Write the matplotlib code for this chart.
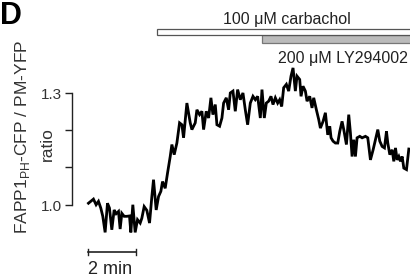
import matplotlib
matplotlib.use("Agg")
import matplotlib.pyplot as plt
from matplotlib.patches import Rectangle

plt.rcParams['font.family'] = ['Liberation Sans', 'DejaVu Sans']
plt.rcParams['mathtext.fontset'] = 'custom'
plt.rcParams['mathtext.rm'] = 'Liberation Sans'

# time in minutes
time_min = [0.014, 0.222, 0.333, 0.431, 0.528, 0.611, 0.708, 0.806, 0.889, 0.986,
            1.083, 1.167, 1.264, 1.333, 1.403, 1.5, 1.611, 1.722, 1.778, 1.861,
            1.958, 2.056, 2.167, 2.236, 2.333, 2.444, 2.556, 2.653, 2.722, 2.833,
            2.931, 3.028, 3.097, 3.208, 3.306, 3.417, 3.486, 3.583, 3.694, 3.806,
            3.903, 3.972, 4.111, 4.25, 4.319, 4.458, 4.528, 4.639, 4.736, 4.806,
            4.917, 5.014, 5.111, 5.194, 5.292, 5.361, 5.472, 5.569, 5.639, 5.75,
            5.847, 5.917, 6.028, 6.125, 6.222, 6.333, 6.444, 6.542, 6.639, 6.75,
            6.861, 6.958, 7.056, 7.167, 7.236, 7.333, 7.417, 7.514, 7.611, 7.694,
            7.792, 7.889, 7.972, 8.056, 8.139, 8.25, 8.347, 8.444, 8.528, 8.625,
            8.694, 8.806, 8.861, 8.944, 9.042, 9.111, 9.222, 9.319, 9.389, 9.5,
            9.597, 9.667, 9.778, 9.875, 9.972, 10.056, 10.111, 10.194, 10.292, 10.389,
            10.472, 10.569, 10.639, 10.75, 10.847, 10.917, 10.986, 11.056, 11.125, 11.194,
            11.306, 11.403, 11.542, 11.639, 11.75, 11.861, 11.958, 12.056, 12.139, 12.236,
            12.333, 12.417, 12.472, 12.556, 12.653, 12.722, 12.792, 12.861, 12.931, 13.0,
            13.069, 13.139, 13.25, 13.347]
# FAPP1PH-CFP / PM-YFP ratio
ratio = [1.004, 1.015, 1.000, 1.009, 0.991, 0.969, 0.926, 1.004, 0.991, 0.933,
         0.986, 0.976, 0.982, 0.935, 0.977, 0.969, 0.969, 0.970, 0.926, 1.000,
         0.926, 0.960, 0.951, 0.964, 0.995, 0.985, 0.951, 1.022, 1.067, 0.986,
         1.022, 1.036, 1.062, 1.044, 1.085, 1.129, 1.161, 1.134, 1.165, 1.219,
         1.214, 1.179, 1.272, 1.219, 1.201, 1.219, 1.254, 1.241, 1.250, 1.201,
         1.250, 1.232, 1.286, 1.241, 1.268, 1.214, 1.210, 1.232, 1.272, 1.286,
         1.254, 1.299, 1.304, 1.250, 1.308, 1.281, 1.299, 1.254, 1.214, 1.272,
         1.290, 1.281, 1.290, 1.232, 1.308, 1.232, 1.272, 1.277, 1.290, 1.268,
         1.286, 1.272, 1.281, 1.263, 1.313, 1.322, 1.304, 1.344, 1.366, 1.304,
         1.344, 1.335, 1.290, 1.317, 1.304, 1.277, 1.290, 1.259, 1.286, 1.254,
         1.228, 1.205, 1.223, 1.246, 1.187, 1.210, 1.179, 1.170, 1.165, 1.165,
         1.196, 1.223, 1.201, 1.161, 1.241, 1.192, 1.129, 1.174, 1.129, 1.179,
         1.183, 1.179, 1.183, 1.179, 1.120, 1.147, 1.174, 1.201, 1.170, 1.156,
         1.152, 1.196, 1.165, 1.134, 1.147, 1.116, 1.152, 1.120, 1.129, 1.116,
         1.129, 1.098, 1.094, 1.149]

carbachol_start, carbachol_end = 2.875, 13.45
ly_start, ly_end = 7.24, 13.45
carbachol_label = "100 \u03bcM carbachol"
ly_label = "200 \u03bcM LY294002"
ytick_vals = [1.0, 1.1, 1.2, 1.3]
ytick_labels = ["1.0", "", "", "1.3"]
scale_len = 2.0

fig = plt.figure(figsize=(4.105, 2.785), dpi=100)
ax = fig.add_axes([72/410, 0, 338/410, 1])
ax.set_xlim(-0.667, 13.417)
ax.set_ylim(0.804, 1.549)
ax.patch.set_alpha(0)

ax.plot(time_min, ratio, color='black', lw=2.0, solid_joinstyle='miter', clip_on=False)

for s in ['top', 'right', 'bottom']:
    ax.spines[s].set_visible(False)
ax.spines['left'].set_bounds(1.0, 1.3)
ax.spines['left'].set_linewidth(1.0)
ax.spines['left'].set_color('#222222')
ax.set_xticks([])
ax.set_yticks(ytick_vals)
ax.set_yticklabels(ytick_labels)
ax.tick_params(axis='y', direction='out', length=5, width=1.0, pad=2, labelsize=11,
               labelcolor='#333333', color='#222222')

# stimulus bars
ax.add_patch(Rectangle((carbachol_start, 1.455), carbachol_end - carbachol_start, 0.014,
                       facecolor='white', edgecolor='#555555', lw=0.9, clip_on=False, zorder=3))
ax.add_patch(Rectangle((ly_start, 1.433), ly_end - ly_start, 0.021,
                       facecolor='#bbbbbb', edgecolor='#777777', lw=0.9, clip_on=False, zorder=2))
ax.text(8.29, 1.485, carbachol_label, ha='center', va='baseline', fontsize=11.5, color='#222222')
ax.text(10.6, 1.380, ly_label, ha='center', va='baseline', fontsize=11.5, color='#222222')

# time scale bar
ax.plot([0, scale_len], [0.874, 0.874], color='#222222', lw=1.2, clip_on=False)
ax.plot([0, 0], [0.866, 0.882], color='#222222', lw=1.0, clip_on=False)
ax.plot([scale_len, scale_len], [0.866, 0.882], color='#222222', lw=1.0, clip_on=False)
ax.text(scale_len / 2 - 0.08, 0.8165, "2 min", ha='center', va='baseline', fontsize=13, color='#222222')

# y label
fig.text(22/410, 1 - 137/278, "FAPP1$_{\\mathregular{PH}}$-CFP / PM-YFP", rotation=90,
         ha='center', va='center', fontsize=12.5, color='#333333')
fig.text(47/410, 1 - 144/278, "ratio", rotation=90, ha='center', va='center',
         fontsize=12.5, color='#333333')

# panel letter
fig.text(0.0, 1 - 1.0/278, "D", fontsize=22, fontweight='bold', ha='left', va='top')

fig.savefig("out.png", dpi=100)
